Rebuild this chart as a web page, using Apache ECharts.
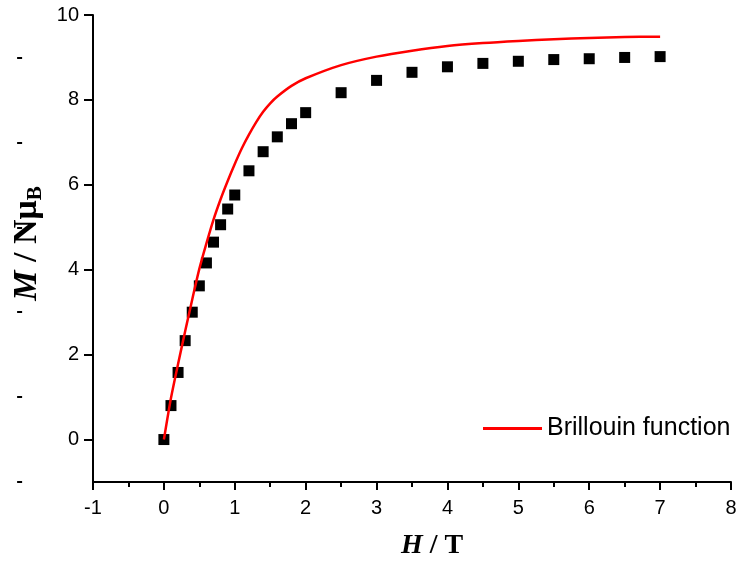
<!DOCTYPE html>
<html>
<head>
<meta charset="utf-8">
<script src="https://cdn.jsdelivr.net/npm/echarts@6/dist/echarts.min.js"></script>
<style>
  html, body { margin: 0; padding: 0; background: #ffffff; }
  #chart { width: 740px; height: 574px; }
</style>
</head>
<body>
<div id="chart"></div>
<script>
// measured points (black squares)
var fieldH = [0, 0.1, 0.2, 0.3, 0.4, 0.5, 0.6, 0.7, 0.8, 0.9, 1.0, 1.2, 1.4, 1.6, 1.8, 2.0, 2.5, 3, 3.5, 4, 4.5, 5, 5.5, 6, 6.5, 7];
var magM = [0, 0.8, 1.58, 2.33, 3.0, 3.62, 4.16, 4.65, 5.06, 5.43, 5.76, 6.33, 6.78, 7.13, 7.44, 7.70, 8.17, 8.46, 8.65, 8.78, 8.86, 8.91, 8.95, 8.97, 9.0, 9.02];

// Brillouin function curve
var curveH = [0, 0.05, 0.1, 0.2, 0.3, 0.4, 0.5, 0.6, 0.7, 0.8, 0.9, 1.0, 1.1, 1.2, 1.3, 1.4, 1.5, 1.6, 1.8, 2.0, 2.5, 3.0, 3.5, 4.0, 4.5, 5.0, 5.5, 6.0, 6.5, 7.0];
var curveM = [0, 0.5, 0.98, 1.78, 2.55, 3.3, 4.02, 4.62, 5.18, 5.66, 6.09, 6.49, 6.86, 7.18, 7.47, 7.72, 7.92, 8.08, 8.33, 8.51, 8.82, 9.02, 9.16, 9.27, 9.34, 9.39, 9.43, 9.46, 9.48, 9.49];

var yLabels = [0, 2, 4, 6, 8, 10];
var yMinor = [-1, 1, 3, 5, 7, 9];

var chart = echarts.init(document.getElementById('chart'));

var pts = fieldH.map(function (h, i) { return [h, magM[i]]; });
var line = curveH.map(function (h, i) { return [h, curveM[i]]; });

var axisFont = 'Liberation Sans, Arial, sans-serif';
var titleFont = 'Liberation Serif, Times New Roman, serif';

// y ticks did not draw on the grid edge, so they sit on a helper grid
// whose x zero falls on the left axis line (one x unit = 70.89px)
var helperLeft = 93 - 70.89;

chart.setOption({
  animation: false,
  backgroundColor: '#ffffff',
  grid: [
    { left: 93, right: 9, top: 15, bottom: 92 },
    { left: helperLeft, right: 9, top: 15, bottom: 92 }
  ],
  legend: {
    data: [{ name: 'Brillouin function', icon: 'rect' }],
    left: 483,
    top: 416,
    padding: 0,
    itemWidth: 59,
    itemHeight: 3,
    itemGap: 6,
    textStyle: { fontSize: 25, color: '#000', fontFamily: axisFont }
  },
  xAxis: [{
    type: 'value',
    gridIndex: 0,
    min: -1,
    max: 8,
    interval: 1,
    name: '{i|H} / T',
    nameLocation: 'middle',
    nameGap: 50,
    nameTextStyle: {
      fontSize: 28, fontWeight: 'bold', fontFamily: titleFont, color: '#000',
      padding: [0, 0, 0, 40],
      rich: { i: { fontSize: 28, fontWeight: 'bold', fontStyle: 'italic', fontFamily: titleFont, color: '#000' } }
    },
    splitLine: { show: false },
    axisLine: { onZero: false, lineStyle: { color: '#000', width: 2 } },
    axisTick: { inside: false, length: 8, lineStyle: { color: '#000', width: 2 } },
    minorTick: { show: true, splitNumber: 2, length: 5, lineStyle: { color: '#000', width: 2 } },
    axisLabel: { margin: 16, fontSize: 20, color: '#000', fontFamily: axisFont }
  }, {
    type: 'value',
    gridIndex: 1,
    min: -1,
    max: 9,
    interval: 1,
    splitLine: { show: false },
    axisLine: { show: false },
    axisTick: { show: false },
    axisLabel: { show: false }
  }],
  yAxis: [{
    type: 'value',
    gridIndex: 0,
    min: -1,
    max: 10,
    interval: 1,
    name: '{i|M} / Nμ{s|B}',
    nameLocation: 'middle',
    nameRotate: 90,
    nameGap: 44,
    nameTextStyle: {
      fontSize: 34, fontWeight: 'bold', fontFamily: titleFont, color: '#000',
      padding: [0, 0, 0, 10],
      rich: {
        i: { fontSize: 34, fontWeight: 'bold', fontStyle: 'italic', fontFamily: titleFont, color: '#000' },
        s: { fontSize: 21, fontWeight: 'bold', fontFamily: titleFont, color: '#000', verticalAlign: 'bottom', padding: [16, 0, 0, 0] }
      }
    },
    splitLine: { show: false },
    axisLine: { onZero: false, lineStyle: { color: '#000', width: 2 } },
    axisTick: { show: false },
    axisLabel: {
      margin: 14, fontSize: 20, color: '#000', fontFamily: axisFont,
      formatter: function (v) { return yLabels.indexOf(v) >= 0 ? String(v) : ''; }
    }
  }, {
    // major y ticks
    type: 'value',
    gridIndex: 1,
    min: -1,
    max: 10,
    interval: 1,
    splitLine: { show: false },
    axisLine: { show: false },
    axisTick: { length: 9, customValues: yLabels, lineStyle: { color: '#000', width: 2 } },
    axisLabel: { show: false }
  }, {
    // minor y ticks
    type: 'value',
    gridIndex: 1,
    min: -1,
    max: 10,
    interval: 1,
    position: 'left',
    splitLine: { show: false },
    axisLine: { show: false },
    axisTick: { length: 5, customValues: yMinor, lineStyle: { color: '#000', width: 2 } },
    axisLabel: { show: false }
  }],
  series: [{
    name: 'data',
    type: 'scatter',
    symbol: 'rect',
    symbolSize: 11,
    itemStyle: { color: '#000', opacity: 1 },
    data: pts
  }, {
    name: 'Brillouin function',
    type: 'line',
    smooth: 0.3,
    symbol: 'none',
    lineStyle: { color: '#ff0000', width: 2.5 },
    itemStyle: { color: '#ff0000' },
    data: line
  }]
});
</script>
</body>
</html>
